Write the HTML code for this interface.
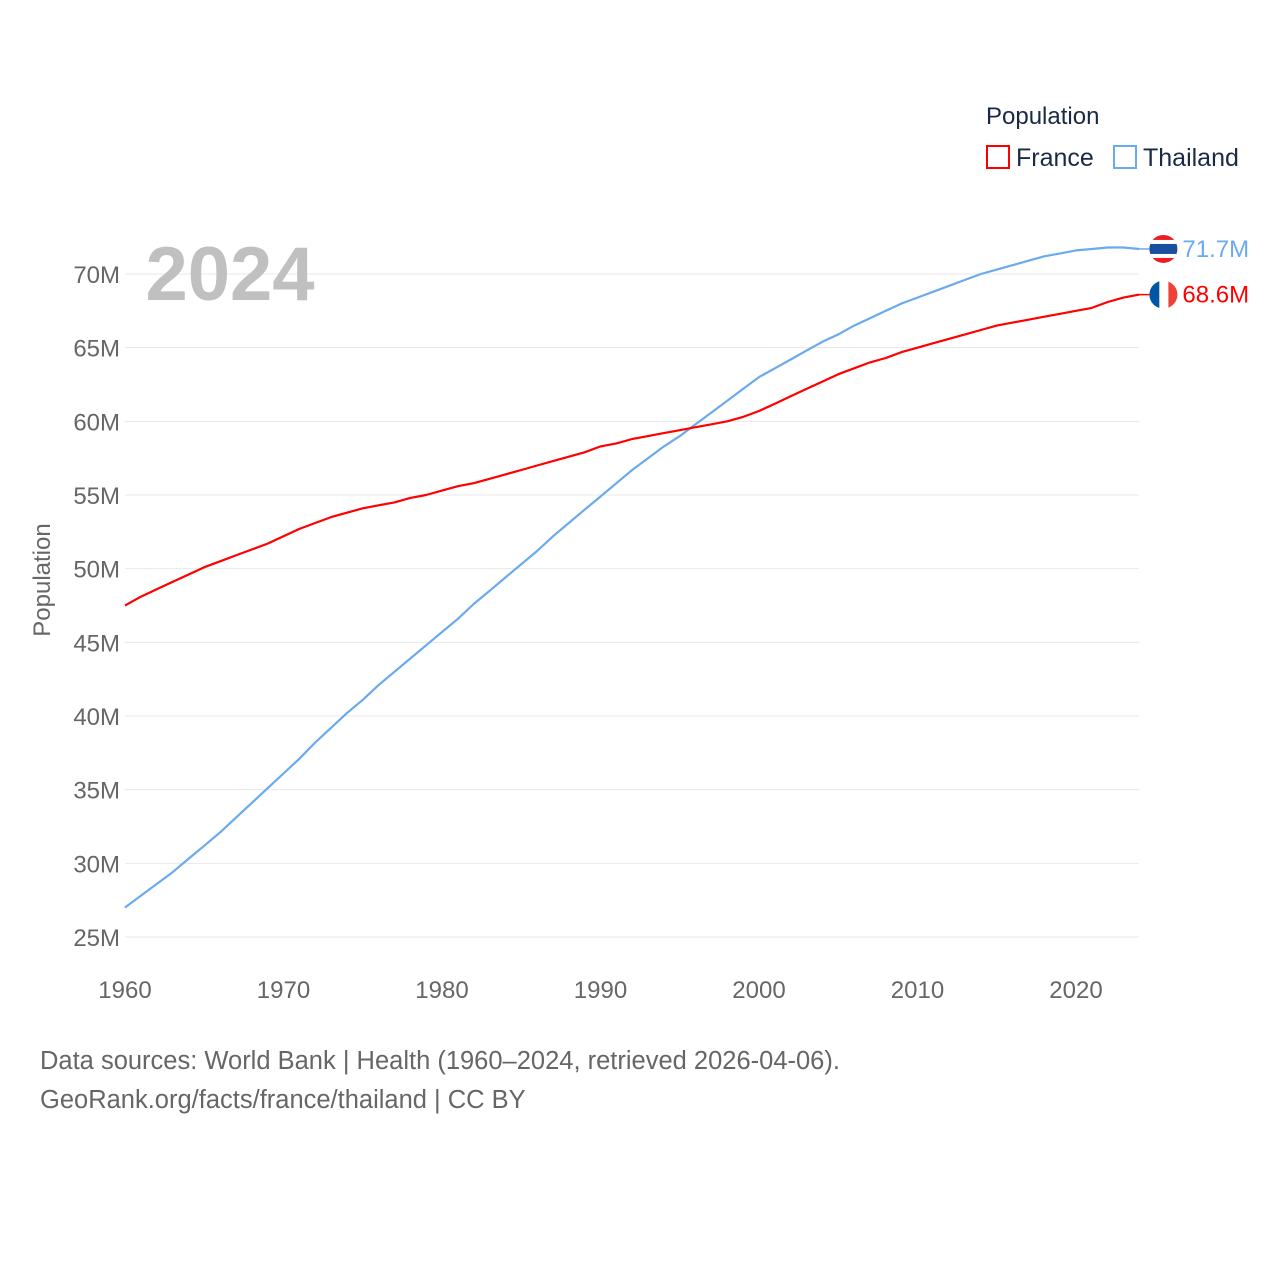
<!DOCTYPE html>
<html><head><meta charset="utf-8"><style>
body{margin:0;background:#fff;font-family:"Liberation Sans",sans-serif}
svg text{font-family:"Liberation Sans",sans-serif}
</style></head><body>
<svg id="chart" width="1280" height="1280" viewBox="0 0 1280 1280">
<g id="grid"></g>
<g id="yticks"></g>
<g id="xticks"></g>
<text x="230" y="300" font-size="76" font-weight="bold" fill="#c0c0c0" text-anchor="middle">2024</text>
<text transform="translate(50,580) rotate(-90)" font-size="24" fill="#666" text-anchor="middle">Population</text>
<g id="series"></g>
<g>
<text x="986" y="124" font-size="24" fill="#1a2a44">Population</text>
<g><rect x="987" y="146" width="22" height="22" fill="none" stroke="#ff0000" stroke-width="2"/><text x="1016" y="166" font-size="25" fill="#1a2a44">France</text></g>
<g><rect x="1114" y="146" width="22" height="22" fill="none" stroke="#6aaaee" stroke-width="2"/><text x="1143" y="166" font-size="25" fill="#1a2a44">Thailand</text></g>
</g>
<text x="40" y="1069" font-size="25.5" fill="#666">Data sources: World Bank | Health (1960–2024, retrieved 2026-04-06).</text>
<text x="40" y="1108" font-size="25.5" fill="#666">GeoRank.org/facts/france/thailand | CC BY</text>
</svg>
<script>
const years=[];for(let y=1960;y<=2024;y++)years.push(y);
const france=[47.5,48.1,48.6,49.1,49.6,50.1,50.5,50.9,51.3,51.7,52.2,52.7,53.1,53.5,53.8,54.1,54.3,54.5,54.8,55.0,55.3,55.6,55.8,56.1,56.4,56.7,57.0,57.3,57.6,57.9,58.3,58.5,58.8,59.0,59.2,59.4,59.6,59.8,60.0,60.3,60.7,61.2,61.7,62.2,62.7,63.2,63.6,64.0,64.3,64.7,65.0,65.3,65.6,65.9,66.2,66.5,66.7,66.9,67.1,67.3,67.5,67.7,68.1,68.4,68.6];
const thailand=[27.0,27.8,28.6,29.4,30.3,31.2,32.1,33.1,34.1,35.1,36.1,37.1,38.2,39.2,40.2,41.1,42.1,43.0,43.9,44.8,45.7,46.6,47.6,48.5,49.4,50.3,51.2,52.2,53.1,54.0,54.9,55.8,56.7,57.5,58.3,59.0,59.8,60.6,61.4,62.2,63.0,63.6,64.2,64.8,65.4,65.9,66.5,67.0,67.5,68.0,68.4,68.8,69.2,69.6,70.0,70.3,70.6,70.9,71.2,71.4,71.6,71.7,71.8,71.8,71.7];
const yTicks=[25,30,35,40,45,50,55,60,65,70];
const xTicks=[1960,1970,1980,1990,2000,2010,2020];
const X=y=>125+(y-1960)*(1076-125)/60;
const Y=v=>937-(v-25)*(937-274)/45;
const NS='http://www.w3.org/2000/svg';
function mk(t,a,p){const e=document.createElementNS(NS,t);for(const k in a)e.setAttribute(k,a[k]);p.appendChild(e);return e;}
const g=document.getElementById('grid'),yt=document.getElementById('yticks'),xt=document.getElementById('xticks'),s=document.getElementById('series');
yTicks.forEach(v=>{
 const l=mk('line',{x1:125,x2:1139,y1:Y(v),y2:Y(v),stroke:'#e8e8e8','stroke-width':1},g);
 
 
 const t=mk('text',{x:120,y:Y(v)+9,'font-size':24,fill:'#666','text-anchor':'end'},yt);t.textContent=v+'M';
 
 
});
xTicks.forEach(v=>{
 const t=mk('text',{x:X(v),y:998,'font-size':24,fill:'#666','text-anchor':'middle'},xt);t.textContent=v;
 
 
});
function line(data,color,name){
 const d=data.map((v,i)=>(i?'L':'M')+X(years[i]).toFixed(1)+','+Y(v).toFixed(1)).join('');
 const p=mk('path',{d:d,fill:'none',stroke:color,'stroke-width':2.2,'stroke-linejoin':'round'},s);
 
 
}
line(thailand,'#6aaaee','thailand');line(france,'#ff0000','france');
function end(data,color,name,flag){
 const v=data[data.length-1],x=X(2024),y=Y(v),cx=x+24;
 const gg=mk('g',{},s);
 
 
 mk('line',{x1:x,x2:cx-14,y1:y,y2:y,stroke:color,'stroke-width':1.5},gg);
 const cid='c'+name;const cp=mk('clipPath',{id:cid},gg);mk('circle',{cx:cx,cy:y,r:14},cp);
 const f=mk('g',{'clip-path':'url(#'+cid+')'},gg);
 if(flag==='fr'){mk('rect',{x:cx-14,y:y-14,width:10,height:28,fill:'#0055a4'},f);mk('rect',{x:cx-4,y:y-14,width:9,height:28,fill:'#fff'},f);mk('rect',{x:cx+5,y:y-14,width:10,height:28,fill:'#ef4135'},f);}
 else{mk('rect',{x:cx-14,y:y-14,width:28,height:28,fill:'#ed1c24'},f);mk('rect',{x:cx-14,y:y-9,width:28,height:18,fill:'#fff'},f);mk('rect',{x:cx-14,y:y-5,width:28,height:10,fill:'#1a4fa0'},f);}
 const t=mk('text',{x:cx+19,y:y+8,'font-size':24,fill:color},gg);t.textContent=v.toFixed(1)+'M';
}
end(thailand,'#6aaaee','thailand','th');end(france,'#ff0000','france','fr');
</script>
</body></html>
